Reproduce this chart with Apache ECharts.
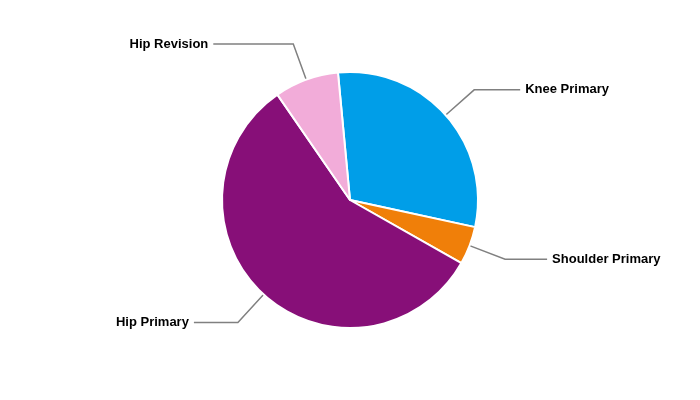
<!DOCTYPE html>
<html>
<head>
<meta charset="utf-8">
<script src="https://cdn.jsdelivr.net/npm/echarts@6/dist/echarts.min.js"></script>
<style>html,body{margin:0;padding:0;background:#fff}#c{width:700px;height:400px}</style>
</head>
<body>
<div id="c"></div>
<script>
const categories = ['Knee Primary', 'Shoulder Primary', 'Hip Primary', 'Hip Revision'];
const values = [29.9, 4.8, 57.2, 8.1];
const colors = ['#009EE8', '#F07F09', '#870F78', '#F2ACD9'];
const lineLength2 = [46, 42, 44, 80];

const chart = echarts.init(document.getElementById('c'));
chart.setOption({
  animation: false,
  series: [{
    type: 'pie',
    center: ['50%', '50%'],
    radius: 128,
    startAngle: 95.4,
    clockwise: true,
    data: categories.map((n, i) => ({
      name: n, value: values[i], itemStyle: { color: colors[i] },
      labelLine: { length2: lineLength2[i] }
    })),
    itemStyle: { borderColor: '#fff', borderWidth: 2 },
    label: {
      show: true,
      formatter: '{b}',
      fontFamily: 'Liberation Sans, Arial, sans-serif',
      fontWeight: 'bold',
      fontSize: 13,
      color: '#000'
    },
    labelLine: {
      show: true,
      length: 38,
      length2: 46,
      lineStyle: { color: '#808080', width: 1.5 }
    }
  }]
});
</script>
</body>
</html>
